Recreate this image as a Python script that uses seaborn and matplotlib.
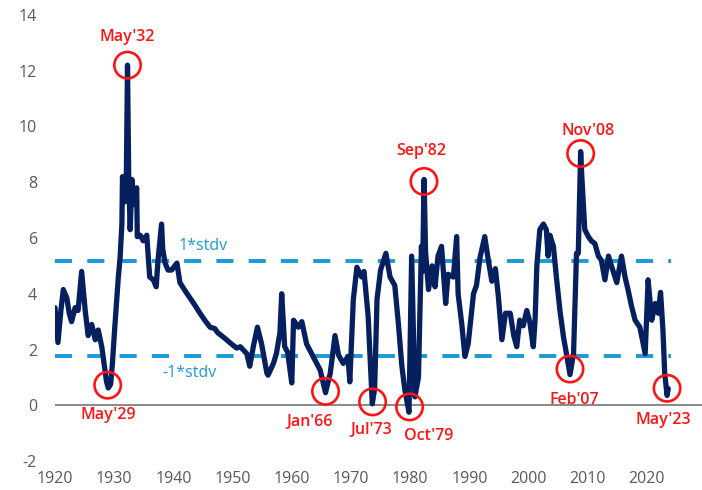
import matplotlib
matplotlib.use("Agg")
import matplotlib.pyplot as plt
import seaborn as sns
import pandas as pd

# ------------------------------------------------------
# DATA
# ------------------------------------------------------
years = [
    1920.0, 1920.5, 1921.0, 1921.4, 1922.0, 1922.4, 1922.8, 1923.4, 1923.9, 1924.5,
    1925.1, 1925.6, 1926.2, 1926.8, 1927.3, 1927.9, 1928.4, 1928.7, 1929.0, 1929.4,
    1929.7, 1930.1, 1930.7, 1931.0, 1931.3, 1931.4, 1931.8, 1932.05, 1932.25, 1932.45,
    1932.7, 1933.0, 1933.2, 1933.8, 1933.9, 1934.4, 1934.9, 1935.5, 1936.0, 1936.6,
    1937.1, 1937.4, 1938.0, 1938.2, 1938.6, 1939.1, 1939.7, 1940.6, 1941.1, 1942.0,
    1942.8, 1943.6, 1944.5, 1945.3, 1946.2, 1947.0, 1947.5, 1948.7, 1949.8, 1950.7,
    1951.3, 1952.4, 1952.9, 1953.5, 1954.2, 1954.9, 1955.8, 1956.0, 1956.9, 1957.4,
    1958.0, 1958.3, 1958.8, 1959.3, 1960.0, 1960.3, 1961.1, 1961.7, 1962.5, 1963.6,
    1964.8, 1965.7, 1966.5, 1967.3, 1967.9, 1968.7, 1969.5, 1969.8, 1970.4, 1971.0,
    1971.8, 1972.2, 1972.9, 1973.6, 1974.0, 1974.4, 1975.0, 1975.9, 1976.6, 1977.4,
    1978.0, 1978.6, 1979.1, 1979.8, 1980.25, 1980.8, 1981.4, 1981.9, 1982.1, 1982.35,
    1982.6, 1983.1, 1983.7, 1984.2, 1984.7, 1985.3, 1986.0, 1986.4, 1987.3, 1987.85,
    1988.1, 1988.7, 1989.25, 1989.8, 1990.7, 1991.2, 1991.8, 1992.6, 1993.2, 1993.8,
    1994.4, 1994.9, 1995.5, 1996.1, 1996.9, 1997.5, 1998.0, 1998.5, 1999.1, 1999.7,
    2000.2, 2000.8, 2001.1, 2001.4, 2001.9, 2002.5, 2003.0, 2003.3, 2003.6, 2004.2,
    2004.7, 2005.3, 2005.9, 2006.4, 2007.0, 2007.6, 2008.1, 2008.4, 2008.8, 2009.0,
    2009.5, 2010.1, 2010.6, 2011.2, 2011.8, 2012.3, 2012.9, 2013.5, 2014.0, 2014.9,
    2015.7, 2016.3, 2016.8, 2017.4, 2018.0, 2018.8, 2019.7, 2020.2, 2020.8, 2021.4,
    2021.9, 2022.3, 2022.7, 2023.0, 2023.4, 2023.6,
]
spread = [
    3.5, 2.25, 3.4, 4.15, 3.85, 3.3, 3.0, 3.5, 3.4, 4.8,
    3.4, 2.5, 2.9, 2.35, 2.7, 2.1, 1.3, 0.85, 0.62, 0.75,
    1.5, 2.8, 4.6, 5.3, 6.5, 8.2, 7.3, 8.2, 12.2, 8.2,
    6.3, 8.1, 7.2, 7.8, 6.05, 6.1, 5.9, 6.1, 4.6, 4.5,
    4.25, 5.2, 6.5, 5.6, 5.1, 4.85, 4.85, 5.1, 4.4, 4.1,
    3.85, 3.6, 3.3, 3.05, 2.8, 2.75, 2.6, 2.4, 2.2, 2.05,
    2.1, 1.85, 1.4, 2.1, 2.8, 2.2, 1.15, 1.08, 1.5, 1.85,
    2.6, 4.0, 2.1, 1.9, 0.8, 3.05, 2.8, 3.0, 2.2, 1.75,
    1.26, 0.45, 1.15, 2.5, 1.8, 1.5, 1.75, 0.84, 3.8, 4.95,
    4.6, 4.8, 3.2, 0.05, 0.6, 3.8, 4.85, 5.45, 4.6, 4.3,
    2.95, 1.4, 0.55, -0.25, 5.35, 0.3, 1.0, 5.7, 4.8, 8.1,
    5.5, 4.15, 5.0, 4.25, 5.35, 5.7, 3.65, 4.7, 4.6, 6.05,
    4.0, 2.95, 1.75, 2.2, 4.0, 4.3, 5.3, 6.05, 5.2, 4.45,
    4.9, 3.9, 2.35, 3.3, 3.3, 2.5, 2.1, 3.05, 2.85, 3.4,
    3.0, 2.1, 3.05, 5.0, 6.3, 6.5, 6.3, 5.35, 6.1, 5.7,
    4.6, 3.4, 2.45, 1.85, 1.1, 1.85, 5.45, 5.45, 9.1, 8.2,
    6.3, 6.05, 5.9, 5.8, 5.35, 5.2, 4.5, 5.35, 5.0, 4.4,
    5.35, 4.6, 4.15, 3.55, 3.05, 2.8, 1.85, 4.5, 3.05, 3.65,
    3.3, 4.05, 2.7, 1.15, 0.35, 0.6,
]

upper_band = 5.17
lower_band = 1.76
band_labels = ["1*stdv", "-1*stdv"]

ann_labels = ["May'32", "May'29", "Jan'66", "Jul'73", "Oct'79",
              "Sep'82", "Nov'08", "Feb'07", "May'23"]
ann_years = [1932.25, 1928.9, 1965.7, 1973.65, 1979.9,
             1982.33, 2008.8, 2007.0, 2023.4]
ann_values = [12.2, 0.72, 0.5, 0.12, -0.06,
              8.03, 9.03, 1.3, 0.61]

x_ticks = list(range(1920, 2021, 10))
y_ticks = list(range(-2, 15, 2))

# ------------------------------------------------------
# STYLE
# ------------------------------------------------------
NAVY = "#06205f"
BAND = "#1a9ad6"
RED = "#ff1414"
GREY = "#595959"

sns.set_theme(style="white")
plt.rcParams["font.family"] = ["Open Sans", "DejaVu Sans"]
plt.rcParams["axes.unicode_minus"] = False

# label offsets in pixels from each circle (dx, dy)
label_offsets = [(0, 28), (1, -30), (-16, -31), (-2, -28), (19, -29),
                 (-3, 30), (7, 23), (4, -31), (-4, -32)]

# ------------------------------------------------------
# CHART
# ------------------------------------------------------
df = pd.DataFrame({"year": years, "spread": spread})

fig = plt.figure(figsize=(7.02, 4.90), dpi=100)
ax = fig.add_axes([55 / 702, 29 / 490, 1 - 55 / 702, 446 / 490])

ax.axhline(0, color="#808080", lw=1.3, zorder=1)

for level in (upper_band, lower_band):
    ax.plot([1920, 2024], [level, level], color=BAND, lw=2.8,
            dashes=(4.4, 3.9), zorder=2)

sns.lineplot(data=df, x="year", y="spread", color=NAVY, linewidth=3.8,
             ax=ax, zorder=3, estimator=None, sort=False)

ax.text(1945.0, 5.73, band_labels[0], color=BAND, fontsize=11.5,
        ha="center", va="center")
ax.text(1942.8, 1.15, band_labels[1], color=BAND, fontsize=11.5,
        ha="center", va="center")

ax.scatter(ann_years, ann_values, s=19 ** 2, facecolors="none",
           edgecolors=RED, linewidths=1.9, zorder=4)
for lab, yr, val, (dx, dy) in zip(ann_labels, ann_years, ann_values, label_offsets):
    ax.annotate(lab, xy=(yr, val), xytext=(dx, dy), textcoords="offset pixels",
                ha="center", va="center", color=RED, fontsize=11.5,
                fontweight="semibold", zorder=5)

ax.set_xlim(1920, 2029.3)
ax.set_ylim(-2, 14)
ax.set_xticks(x_ticks)
ax.set_yticks(y_ticks)
ax.tick_params(axis="both", length=0, labelsize=11.5, labelcolor=GREY)
ax.tick_params(axis="y", pad=13)
ax.tick_params(axis="x", pad=7)
ax.set_xlabel("")
ax.set_ylabel("")
for s in ax.spines.values():
    s.set_visible(False)
ax.grid(False)

fig.savefig("out.png", dpi=100)
